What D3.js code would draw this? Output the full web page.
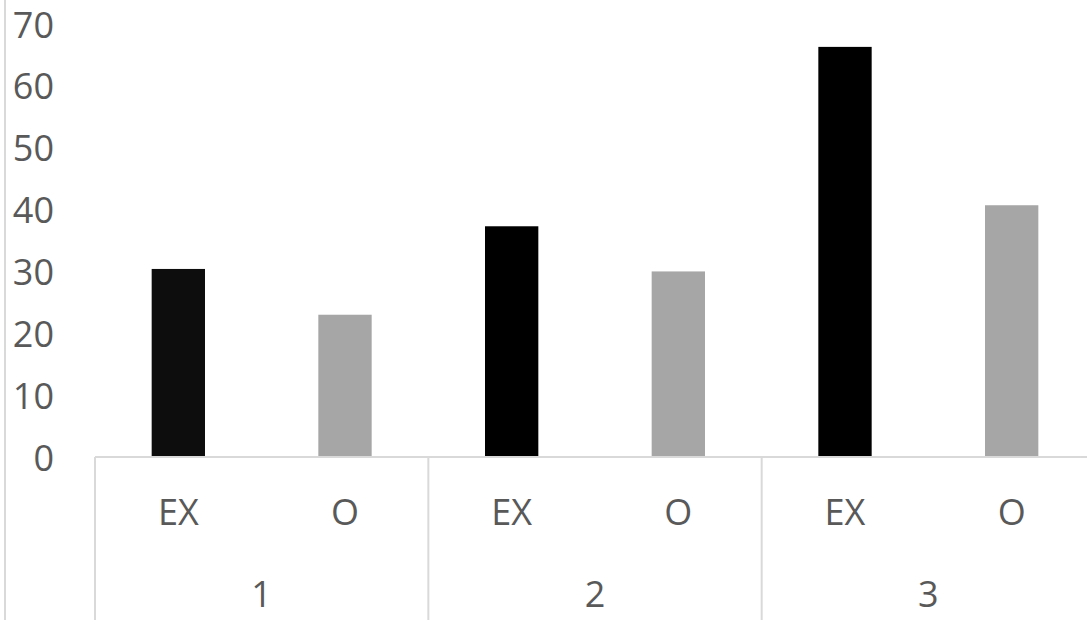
<!DOCTYPE html>
<html>
<head>
<meta charset="utf-8">
<script src="https://cdn.jsdelivr.net/npm/d3@7"></script>
<style>
  html, body { margin: 0; padding: 0; background: #fff; }
  svg { display: block; }
</style>
</head>
<body>
<svg id="chart" width="1087" height="620"></svg>
<script>
const groups = ["1", "2", "3"];
const seriesNames = ["EX", "O"];
const exValues = [30.4, 37.3, 66.3];
const oValues = [23.0, 30.0, 40.7];
const yTicks = [0, 10, 20, 30, 40, 50, 60, 70];
const barColors = { EX: ["#0d0d0d", "#000000", "#000000"], O: ["#a6a6a6", "#a6a6a6", "#a6a6a6"] };

const data = [];
groups.forEach((g, i) => {
  data.push({ group: g, series: "EX", value: exValues[i], color: barColors.EX[i] });
  data.push({ group: g, series: "O", value: oValues[i], color: barColors.O[i] });
});

const svg = d3.select("#chart");
const font = "'Open Sans', 'Noto Sans', sans-serif";
const axisColor = "#d9d9d9";
const textColor = "#595959";

const x0 = d3.scaleBand().domain(groups).range([95, 1095]).padding(0);
const x1 = d3.scaleBand().domain(seriesNames).range([0, x0.bandwidth()]).padding(0);
const y = d3.scaleLinear().domain([0, 70]).range([457, 24]);
const barW = x1.bandwidth() * 0.32;

// left vertical line
svg.append("line").attr("x1", 5).attr("x2", 5).attr("y1", 0).attr("y2", 620)
  .attr("stroke", axisColor).attr("stroke-width", 2);

// bars
svg.append("g").selectAll("rect").data(data).join("rect")
  .attr("x", d => x0(d.group) + x1(d.series) + x1.bandwidth() / 2 - barW / 2)
  .attr("width", barW)
  .attr("y", d => y(d.value))
  .attr("height", d => y(0) - y(d.value))
  .attr("fill", d => d.color);

// baseline
svg.append("line").attr("x1", x0.range()[0]).attr("x2", x0.range()[1])
  .attr("y1", y(0)).attr("y2", y(0)).attr("stroke", axisColor).attr("stroke-width", 2);

// group separators
svg.append("g").selectAll("line").data(groups).join("line")
  .attr("x1", d => x0(d)).attr("x2", d => x0(d))
  .attr("y1", y(0)).attr("y2", 620)
  .attr("stroke", axisColor).attr("stroke-width", 2);

// y tick labels
svg.append("g").selectAll("text").data(yTicks).join("text")
  .attr("x", 54).attr("y", d => y(d))
  .attr("text-anchor", "end").attr("dominant-baseline", "central")
  .attr("font-family", font).attr("font-size", 36).attr("fill", textColor)
  .text(d => d);

// series labels
svg.append("g").selectAll("text").data(data).join("text")
  .attr("x", d => x0(d.group) + x1(d.series) + x1.bandwidth() / 2)
  .attr("y", 511)
  .attr("text-anchor", "middle").attr("dominant-baseline", "central")
  .attr("font-family", font).attr("font-size", 36).attr("fill", textColor)
  .text(d => d.series);

// group labels
svg.append("g").selectAll("text").data(groups).join("text")
  .attr("x", d => x0(d) + x0.bandwidth() / 2)
  .attr("y", 593)
  .attr("text-anchor", "middle").attr("dominant-baseline", "central")
  .attr("font-family", font).attr("font-size", 36).attr("fill", textColor)
  .text(d => d);
</script>
</body>
</html>
